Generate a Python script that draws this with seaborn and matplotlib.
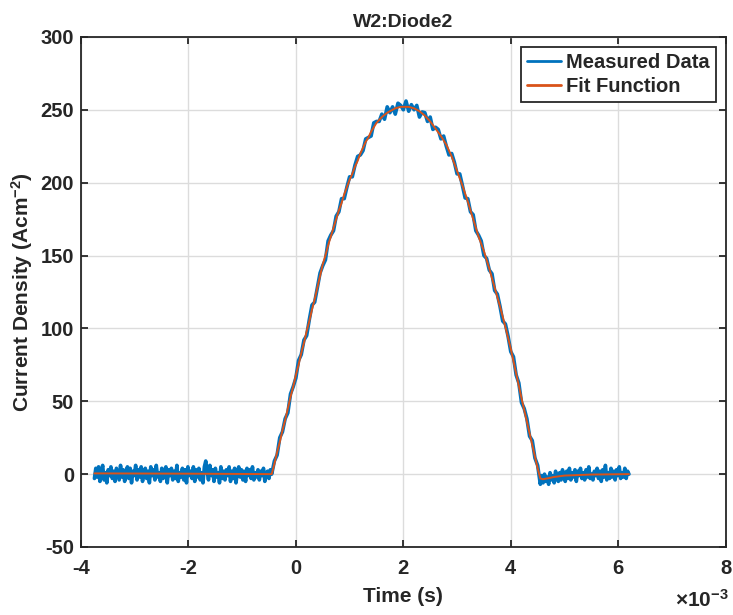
import numpy as np
import pandas as pd
import matplotlib
matplotlib.use("Agg")
import matplotlib.pyplot as plt
import seaborn as sns

# ---------------- data (time in ms, converted to s when plotting) ----------------
# Measured data, baseline before the pulse (-3.75 ms .. -0.45 ms)
meas_pre = [-3, 4, -2, 5, -5, 2, 6, -4, 1, -6, 3, -1, 5, -3, 2, -5, 4, 0, -4, 6,
            -2, 3, -5, 1, 5, -3, 4, -6, 2, -1, 6, -4, 3, -2, 5, -5, 1, 4, -3, 2,
            -6, 5, -1, 3, -4, 6, -2, 1, -5, 4, -3, 2, 5, -6, 3, -1, 4, -4, 2, -3,
            6, -5, 1, -2, 4, -4, 3, -6, 5, -1, 2, -3, 5, -5, 3, -2, 4, -4, 1, -6,
            5, 9, 2, -4, 6, -1, 3, -5, 4, -2, 1, -6, 5, -3, 2, -4, 3, -1, 5, -5,
            2, -3, 4, -6, 1, 5, -2, 3, -4, 2, -5, 4, -1, 3, -3, 5, -4, 1, -2, 3,
            -4, 2, -1, 4, -5, 1, 2, -3, 3, 0]
pre_start, pre_end = -3.75, -0.45

# Measured data during the pulse (-0.40 ms .. 4.50 ms)
meas_pulse = [9, 13, 25, 29, 38, 42, 55, 60, 66, 78, 82, 92, 95, 106, 116, 118,
              128, 138, 143, 147, 160, 164, 167, 177, 180, 189, 189, 197, 204, 204,
              212, 218, 219, 222, 230, 231, 232, 241, 242, 242, 247, 243.5, 252, 248,
              252, 247, 254.5, 253, 250, 256, 249, 253.5, 250, 253, 245, 248.5, 248, 242,
              245, 236.5, 238, 236.5, 230, 232, 225, 219, 220, 214, 206, 206, 198, 189.5,
              189, 180, 178, 167, 164, 160, 150, 148, 140, 137.5, 126, 123.5, 115, 105,
              103, 94.5, 84, 80.5, 68, 62.5, 49, 45, 38, 26, 23, 11, 6]
pulse_start, pulse_end = -0.40, 4.50

# Measured data after the pulse (4.55 ms .. 6.20 ms)
meas_post = [-7, -1, -6, 0, -5, -2, -7, 1, -4, -1, -6, 2, -3, -5, 1, -4, 3, -2, -5, 2,
             -3, 4, -4, 1, -2, 3, -5, 2, -1, 4, -3, 1, -4, 3, -2, 5, -3, 0, -4, 2,
             -1, 4, -3, 2, -5, 3, -2, 6, -4, 1, -3, 4, -2, 2, -4, 3, -1, 5, -3, 1,
             -2, 4, -3, 2, 0]
post_start, post_end = 4.55, 6.20

# Fit function
fit_pre_t = [-3.75, -2.0, -0.45]
fit_pre_v = [0.5, 0.3, 0.0]
fit_pulse_v = [7, 15, 22, 30, 37, 45, 53, 60, 68, 75, 83, 90, 98, 105, 113, 120,
               128, 136, 144, 150, 157, 163, 169, 175, 181, 186, 192, 197, 202, 206,
               211, 215, 220, 224, 228, 231, 235, 238, 241, 243, 245, 246.5, 248, 249,
               250, 251, 251.5, 252, 252, 252, 252, 251.5, 251, 250, 249, 247.5, 246, 244,
               242, 239.5, 237, 234.5, 232, 229, 226, 222, 218, 213, 208, 203, 198, 192.5,
               187, 181, 175, 169, 163, 158, 153, 147, 141, 134.5, 128, 121.5, 115, 108,
               101, 93.5, 86, 77.5, 69, 60.5, 52, 44, 36, 28, 20, 12, 4]
fit_post_t = [4.55, 4.60, 4.70, 4.80, 5.00, 5.50, 6.20]
fit_post_v = [-3, -3.5, -2.8, -2, -1, -0.3, 0]

x_ticks = [-4, -2, 0, 2, 4, 6, 8]
y_ticks = [-50, 0, 50, 100, 150, 200, 250, 300]

# ---------------- assemble ----------------
meas_t = np.concatenate([np.linspace(pre_start, pre_end, len(meas_pre)),
                         np.linspace(pulse_start, pulse_end, len(meas_pulse)),
                         np.linspace(post_start, post_end, len(meas_post))]) * 1e-3
meas_v = np.array(meas_pre + meas_pulse + meas_post, dtype=float)
fit_t = np.concatenate([fit_pre_t,
                        np.linspace(pulse_start, pulse_end, len(fit_pulse_v)),
                        fit_post_t]) * 1e-3
fit_v = np.array(fit_pre_v + fit_pulse_v + fit_post_v, dtype=float)

df_meas = pd.DataFrame({"t": meas_t, "j": meas_v})
df_fit = pd.DataFrame({"t": fit_t, "j": fit_v})

# ---------------- style ----------------
sns.set_style("white")
plt.rcParams["font.family"] = ["Liberation Sans", "DejaVu Sans"]
plt.rcParams["font.weight"] = "bold"
plt.rcParams["mathtext.fontset"] = "custom"
plt.rcParams["mathtext.rm"] = "Liberation Sans:bold"
plt.rcParams["mathtext.bf"] = "Liberation Sans:bold"
plt.rcParams["mathtext.it"] = "Liberation Sans:bold"

fig = plt.figure(figsize=(7.33, 6.15), dpi=100)
ax = fig.add_axes([0.1105, 0.1106, 0.8795, 0.8294])

blue = "#0072BD"
orange = "#D95319"
ink = "#262626"

sns.lineplot(data=df_meas, x="t", y="j", ax=ax, color=blue, lw=2.6, sort=False,
             estimator=None, label="Measured Data")
sns.lineplot(data=df_fit, x="t", y="j", ax=ax, color=orange, lw=1.4, sort=False,
             estimator=None, label="Fit Function")

ax.set_xlim(-4e-3, 8e-3)
ax.set_ylim(-50, 300)
ax.set_xticks([v * 1e-3 for v in x_ticks])
ax.set_xticklabels([str(v) for v in x_ticks])
ax.set_yticks(y_ticks)
ax.set_yticklabels([str(v) for v in y_ticks])

ax.grid(True, color="#dcdcdc", lw=1.0)
ax.set_axisbelow(True)
for s in ax.spines.values():
    s.set_visible(True)
    s.set_color(ink)
    s.set_linewidth(1.3)
ax.tick_params(direction="in", length=5, width=1.3, color=ink,
               labelsize=14.5, labelcolor=ink, top=True, right=True,
               bottom=True, left=True)
ax.tick_params(axis="x", pad=9)
ax.tick_params(axis="y", pad=5)
for lab in ax.get_xticklabels() + ax.get_yticklabels():
    lab.set_fontweight("bold")

ax.set_xlabel("Time (s)", fontsize=15, fontweight="bold", color=ink, labelpad=6)
ax.set_ylabel("Current Density (Acm$^{-2}$)", fontsize=15, fontweight="bold",
              color=ink, labelpad=4)
ax.set_title("W2:Diode2", fontsize=14, fontweight="bold", color=ink, pad=7)

ax.text(1.004, -0.104, r"$\times$10$^{-3}$", transform=ax.transAxes, ha="right",
        va="center", fontsize=15, fontweight="bold", color=ink)

leg = ax.legend(loc="upper right", fontsize=14.5, frameon=True, fancybox=False,
                handlelength=1.7, handletextpad=0.25, borderpad=0.3,
                labelspacing=0.25, borderaxespad=0.5)
leg.get_frame().set_edgecolor(ink)
leg.get_frame().set_linewidth(1.3)
leg.get_frame().set_alpha(1.0)
for t in leg.get_texts():
    t.set_fontweight("bold")
for h in leg.get_lines():
    h.set_linewidth(2.0)

fig.savefig("out.png", dpi=100)
